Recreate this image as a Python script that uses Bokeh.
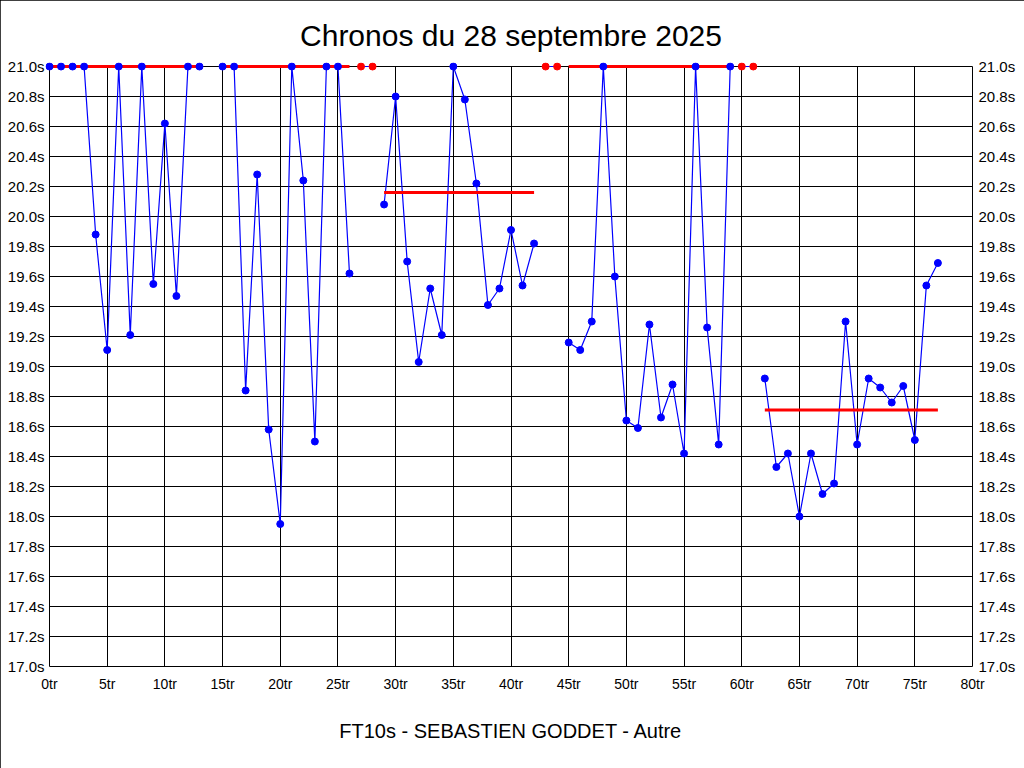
from bokeh.plotting import figure
from bokeh.models import (FixedTicker, PrintfTickFormatter, LinearAxis, Title, Range1d)
from bokeh.embed import file_html
from bokeh.resources import INLINE

# ---- data (lap index, time in seconds; values above 21.0 are shown capped at 21.0) ----
s1_x = [0, 1, 2, 3, 4, 5, 6, 7, 8, 9, 10, 11, 12, 13]
s1_y = [21.0, 21.0, 21.0, 21.0, 19.88, 19.11, 21.0, 19.21, 21.0, 19.55, 20.62, 19.47, 21.0, 21.0]

s2_x = [15, 16, 17, 18, 19, 20, 21, 22, 23, 24, 25, 26]
s2_y = [21.0, 21.0, 18.84, 20.28, 18.58, 17.95, 21.0, 20.24, 18.50, 21.0, 21.0, 19.62]

s3_x = [27, 28]
s3_y = [21.0, 21.0]

s4_x = [29, 30, 31, 32, 33, 34, 35, 36, 37, 38, 39, 40, 41, 42]
s4_y = [20.08, 20.80, 19.70, 19.03, 19.52, 19.21, 21.0, 20.78, 20.22, 19.41, 19.52, 19.91, 19.54, 19.82]

s5_x = [43, 44]
s5_y = [21.0, 21.0]

s6_x = [45, 46, 47, 48, 49, 50, 51, 52, 53, 54, 55, 56, 57, 58, 59]
s6_y = [19.16, 19.11, 19.30, 21.0, 19.60, 18.64, 18.59, 19.28, 18.66, 18.88, 18.42, 21.0, 19.26, 18.48, 21.0]

s7_x = [60, 61]
s7_y = [21.0, 21.0]

s8_x = [62, 63, 64, 65, 66, 67, 68, 69, 70, 71, 72, 73, 74, 75, 76, 77]
s8_y = [18.92, 18.33, 18.42, 18.00, 18.42, 18.15, 18.22, 19.30, 18.48, 18.92, 18.86, 18.76, 18.87, 18.51, 19.54, 19.69]

# session averages (capped at 21.0 for display)
long_sessions = [(s1_x, s1_y), (s2_x, s2_y), (s4_x, s4_y), (s6_x, s6_y), (s8_x, s8_y)]
long_means = [21.0, 21.0, 20.16, 21.0, 18.71]
short_sessions = [(s3_x, s3_y), (s5_x, s5_y), (s7_x, s7_y)]

y_ticks = [17.0, 17.2, 17.4, 17.6, 17.8, 18.0, 18.2, 18.4, 18.6, 18.8, 19.0,
           19.2, 19.4, 19.6, 19.8, 20.0, 20.2, 20.4, 20.6, 20.8, 21.0]
x_ticks = [0, 5, 10, 15, 20, 25, 30, 35, 40, 45, 50, 55, 60, 65, 70, 75, 80]

title_text = "Chronos du 28 septembre 2025"
footer_text = "FT10s - SEBASTIEN GODDET - Autre"

FONT = "Liberation Sans"
BLUE = "#0000FF"
RED = "#FF0000"

# the frame is padded by 4px around the data box so that markers/lines on the edge are not clipped
PAD = 4
FW, FH = 923, 600
xpad = PAD * (x_ticks[-1] - x_ticks[0]) / FW
ypad = PAD * (y_ticks[-1] - y_ticks[0]) / FH

p = figure(frame_width=FW + 2 * PAD, frame_height=FH + 2 * PAD,
           min_border_left=45, min_border_right=48, min_border_top=62, min_border_bottom=98,
           x_range=Range1d(x_ticks[0] - xpad, x_ticks[-1] + xpad),
           y_range=Range1d(y_ticks[0] - ypad, y_ticks[-1] + ypad),
           output_backend="svg", toolbar_location=None, title=None,
           background_fill_color="white", border_fill_color="white")

p.outline_line_color = None
p.styles = {"outline": "1px solid black", "outline-offset": "-1px"}

# title & footer
t = Title(text=title_text, align="center", text_font=FONT, text_font_size="30px",
          text_font_style="normal", text_color="black", standoff=22)
p.add_layout(t, "above")
f = Title(text=footer_text, align="center", text_font=FONT, text_font_size="20px",
          text_font_style="normal", text_color="black", standoff=46)
p.add_layout(f, "below")

# axes
p.xaxis.ticker = FixedTicker(ticks=x_ticks)
p.xaxis.formatter = PrintfTickFormatter(format="%dtr")
p.yaxis.ticker = FixedTicker(ticks=y_ticks)
p.yaxis.formatter = PrintfTickFormatter(format="%.1fs")

right = LinearAxis(ticker=FixedTicker(ticks=y_ticks), formatter=PrintfTickFormatter(format="%.1fs"))
p.add_layout(right, "right")

for ax in [p.xaxis[0], p.yaxis[0], right]:
    ax.axis_line_color = None
    ax.major_tick_line_color = None
    ax.minor_tick_line_color = None
    ax.major_tick_out = 0
    ax.major_tick_in = 0
    ax.major_label_text_font = FONT
    ax.major_label_text_color = "black"
p.xaxis[0].major_label_text_font_size = "14px"
p.yaxis[0].major_label_text_font_size = "15px"
right.major_label_text_font_size = "15px"
p.xaxis[0].major_label_standoff = 5
p.yaxis[0].major_label_standoff = 1
right.major_label_standoff = 2

p.xgrid.ticker = FixedTicker(ticks=x_ticks)
p.ygrid.ticker = FixedTicker(ticks=y_ticks)
p.xgrid[0].cross_bounds = (y_ticks[0], y_ticks[-1])
p.ygrid[0].cross_bounds = (x_ticks[0], x_ticks[-1])
for g in [p.xgrid[0], p.ygrid[0]]:
    g.grid_line_color = "black"
    g.grid_line_alpha = 1.0
    g.grid_line_width = 1

# blue lines
for xs, ys in long_sessions + short_sessions:
    p.line(xs, ys, line_color=BLUE, line_width=1.2)

# red session average lines
for (xs, ys), m in zip(long_sessions, long_means):
    p.line([xs[0], xs[-1]], [m, m], line_color=RED, line_width=3)

# markers
for xs, ys in long_sessions:
    p.scatter(xs, ys, size=7, fill_color=BLUE, line_color=BLUE)
for xs, ys in short_sessions:
    p.scatter(xs, ys, size=7, fill_color=RED, line_color=RED)

open("out.html", "w").write(file_html(p, INLINE))
